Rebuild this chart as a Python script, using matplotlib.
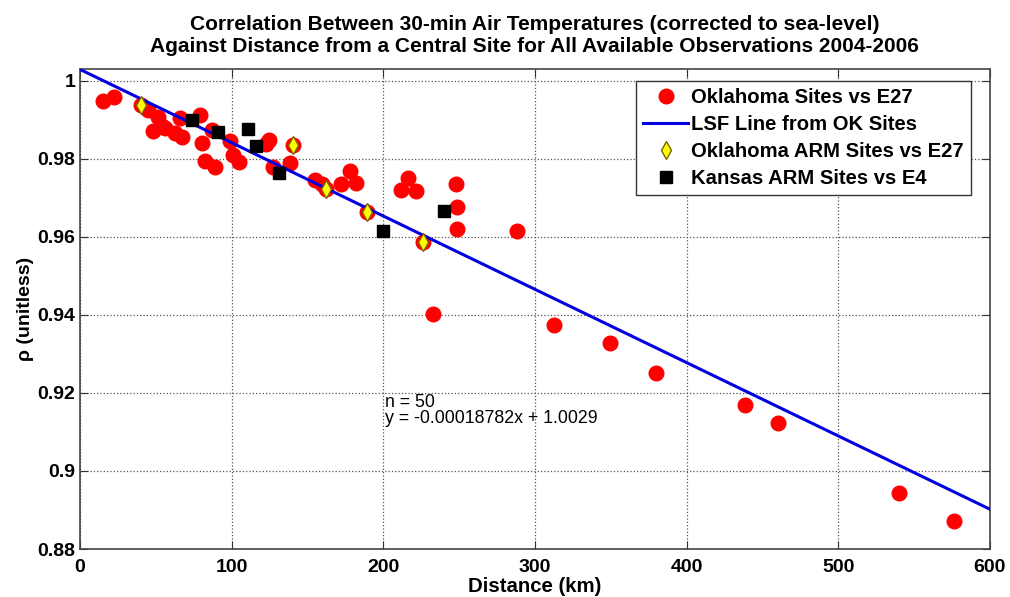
import numpy as np
import matplotlib.pyplot as plt

# Oklahoma Mesonet sites vs E27 (distance km, correlation)
ok_dist = [15.3, 22.6, 40.5, 45.0, 51.6, 53.8, 48.3, 56.0, 62.6, 67.0,
           65.9, 79.0, 80.2, 82.4, 89.0, 86.8, 98.9, 101.0, 105.0, 122.6,
           124.8, 127.4, 138.4, 140.2, 154.9, 159.3, 162.4, 171.8, 178.0, 181.9,
           189.3, 212.0, 216.3, 221.8, 226.2, 248.1, 248.5, 248.5, 288.2, 232.8,
           312.7, 349.3, 380.0, 438.4, 460.3, 539.8, 576.4]
ok_rho = [0.9947, 0.9958, 0.9938, 0.9926, 0.9908, 0.9883, 0.9870, 0.9879, 0.9866, 0.9857,
          0.9904, 0.9913, 0.9840, 0.9793, 0.9780, 0.9874, 0.9845, 0.9810, 0.9791, 0.9838,
          0.9847, 0.9780, 0.9789, 0.9834, 0.9746, 0.9736, 0.9723, 0.9736, 0.9768, 0.9739,
          0.9664, 0.9721, 0.9751, 0.9718, 0.9587, 0.9735, 0.9676, 0.9620, 0.9615, 0.9403,
          0.9374, 0.9327, 0.9250, 0.9169, 0.9122, 0.8943, 0.8873]

# Oklahoma ARM sites vs E27
arm_ok_dist = [40.5, 140.2, 162.4, 189.3, 226.2]
arm_ok_rho = [0.9938, 0.9834, 0.9723, 0.9664, 0.9587]

# Kansas ARM sites vs E4
arm_ks_dist = [74.0, 91.2, 110.9, 116.0, 131.2, 199.5, 240.0]
arm_ks_rho = [0.9900, 0.9868, 0.9875, 0.9832, 0.9763, 0.9614, 0.9667]

# least squares fit from OK sites
slope = -0.00018782
intercept = 1.0029

plt.rcParams['font.family'] = ['Liberation Sans', 'DejaVu Sans']

fig = plt.figure(figsize=(10.1, 5.97), dpi=100)
ax = fig.add_axes([0.0792, 0.0804, 0.9008, 0.804])

ax.plot(ok_dist, ok_rho, 'o', color='red', markersize=10.5, zorder=3,
        label='Oklahoma Sites vs E27')
xfit = np.array([0, 600])
ax.plot(xfit, slope * xfit + intercept, '-', color='#0000e0', linewidth=2.2, zorder=4,
        label='LSF Line from OK Sites')
ax.plot(arm_ok_dist, arm_ok_rho, 'd', color='#ffff00', markeredgecolor='#806000',
        markersize=9, markeredgewidth=1, zorder=5, label='Oklahoma ARM Sites vs E27')
ax.plot(arm_ks_dist, arm_ks_rho, 's', color='black', markersize=8.5, zorder=5,
        label='Kansas ARM Sites vs E4')

ax.set_xlim(0, 600)
ax.set_ylim(0.88, 1.003)
ax.set_xticks(np.arange(0, 601, 100))
ax.set_yticks([0.88, 0.9, 0.92, 0.94, 0.96, 0.98, 1.0])
ax.set_yticklabels(['0.88', '0.9', '0.92', '0.94', '0.96', '0.98', '1'])
ax.grid(True, linestyle=':', color='#555555', linewidth=0.9)
ax.tick_params(direction='in', top=True, right=True, length=6, labelsize=14,
               color='#333333')
ax.tick_params(axis='x', pad=7)
for lbl in ax.get_xticklabels() + ax.get_yticklabels():
    lbl.set_fontweight('bold')
for sp in ax.spines.values():
    sp.set_color('#444444')
    sp.set_linewidth(1.2)

ax.set_xlabel('Distance (km)', fontsize=14.7, fontweight='bold', labelpad=1)
ax.set_ylabel('ρ (unitless)', fontsize=14, fontweight='semibold', labelpad=2)
ax.set_title('Correlation Between 30-min Air Temperatures (corrected to sea-level)\n'
             'Against Distance from a Central Site for All Available Observations 2004-2006',
             fontsize=15, fontweight='bold', pad=12, linespacing=1.2)

ax.text(201, 0.9197, 'n = 50\ny = -0.00018782x + 1.0029', fontsize=12.8,
        va='top', ha='left', linespacing=0.95)

leg = ax.legend(loc='upper right', bbox_to_anchor=(0.979, 0.976), fontsize=14.6,
                fancybox=False, framealpha=1, edgecolor='#333333',
                handlelength=2.2, handletextpad=0.15, borderpad=0.35, labelspacing=0.4,
                borderaxespad=0)
for t in leg.get_texts():
    t.set_fontweight('bold')

fig.savefig('out.png', dpi=100)
